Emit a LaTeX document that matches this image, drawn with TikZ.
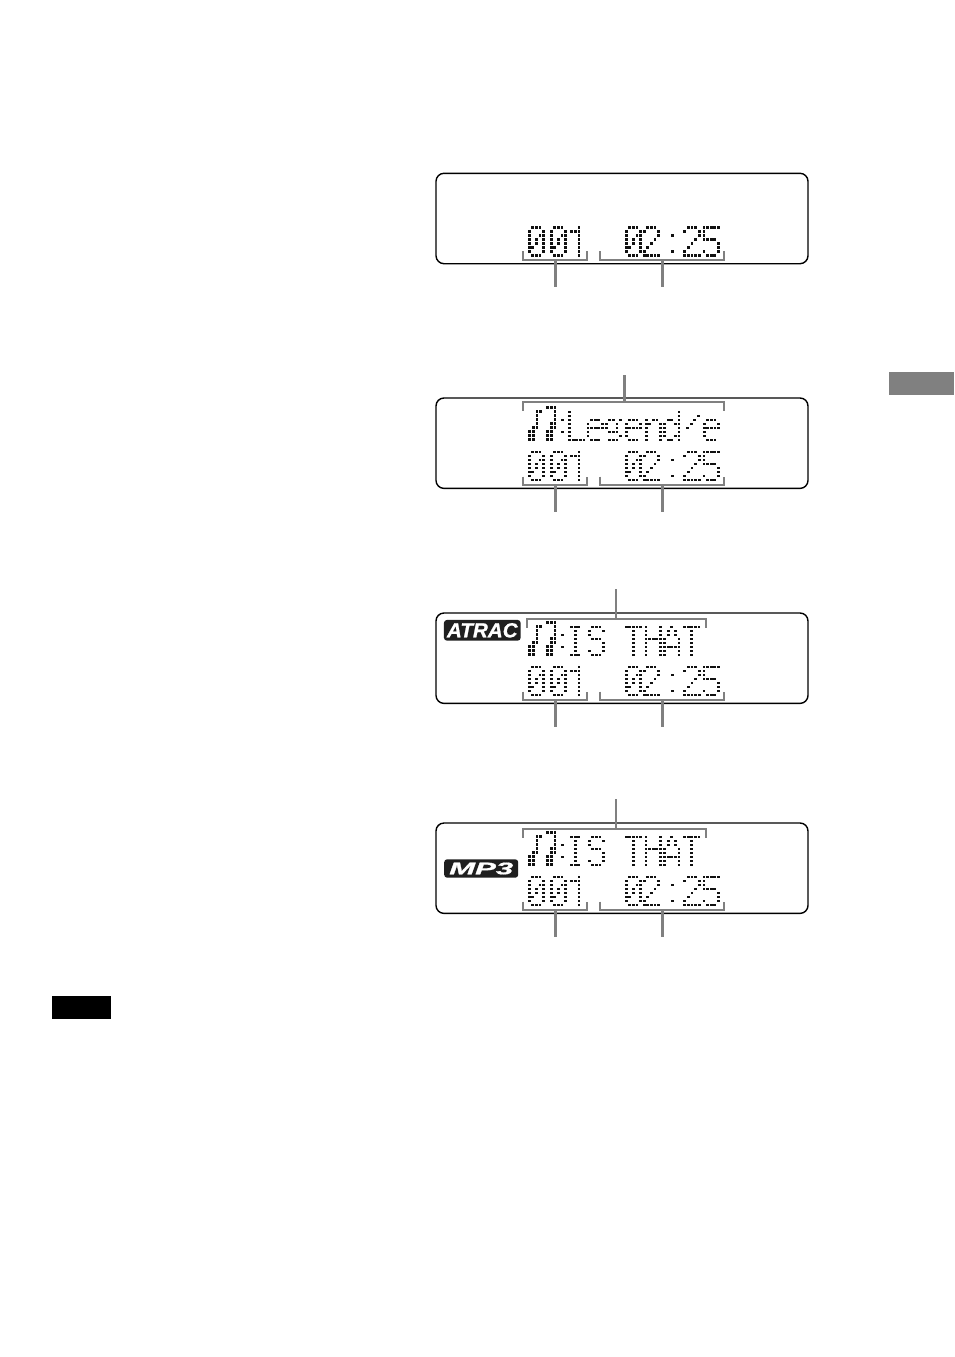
\documentclass[tikz,border=0pt]{standalone}
\usepackage{fontspec}
\usepackage{graphicx}
\setmainfont{Liberation Sans}
\definecolor{leader}{HTML}{808080}
\definecolor{lcd}{HTML}{111111}
\tikzset{
  panel/.style={draw=black,line width=1.05pt,rounded corners=6pt,fill=white,minimum width=279pt,minimum height=67.8pt,inner sep=0pt,outer sep=0pt},
  bracketline/.style={draw=leader,line width=1.75pt,line cap=butt,line join=miter},
  stemline/.style={draw=leader,line width=1.8pt},
  lcddot/.style={fill=lcd},
  badge/.style={fill=black!88,rounded corners=2.2pt,text=white,font=\bfseries\itshape\addfontfeature{FakeBold=1},inner sep=0pt,outer sep=0pt},
  block/.style={fill=#1,inner sep=0pt,outer sep=0pt,anchor=north west}
}
\newcount\colc
\def\dw#1{\ifx#1\relax\else
  \ifx#1X\fill[lcddot] ({\gx+3.6*\the\colc-1.4},{\gy+4*\ri-1.25}) rectangle ++(2.8,2.5);\fi
  \advance\colc by 1 \expandafter\dw\fi}
\newcommand{\glyphat}[3]{\def\gx{#1}\def\gy{#2}%
  \foreach \rr [count=\ri from 0] in #3 {\colc=0 \expandafter\dw\rr\relax}}
\def\gZero{oXXXo,XoooX,XooXX,XoXoX,XoXoX,XXooX,XoooX,oXXXo}
\def\gOne{ooooX,ooXXX,ooooX,ooooX,ooooX,ooooX,ooooX,ooooX}
\def\gTwo{oXXXo,XoooX,ooooX,oooXo,ooXoo,oXooo,Xoooo,XXXXX}
\def\gFive{XXXXX,Xoooo,Xoooo,XXXXo,ooooX,ooooX,XoooX,oXXXo}
\def\gColon{o,o,X,o,o,o,X,o}
\def\gColonB{o,o,X,o,o,X,o,o}
\def\gNote{oooooXXX,ooXXoooX,ooXooooX,ooXooooX,ooXoooXX,oXXoooXX,XXoooXXo,XXoooXXo,XXoooXXo}
\def\gLL{Xoooo,Xoooo,Xoooo,Xoooo,Xoooo,Xoooo,Xoooo,XXXXX}
\def\ge{o,o,oXXXo,XoooX,XXXXX,Xoooo,Xoooo,oXXXo}
\def\gs{o,o,oXXoX,XooXo,XooXo,oXXXo,ooooX,oXXXo}
\def\gn{o,o,XoXXo,XXooX,XoooX,XoooX,XoooX,XoooX}
\def\gd{ooooX,ooooX,oXXoX,XooXX,XoooX,XoooX,XooXX,oXXoX}
\def\gSlash{o,oooX,ooXo,oXoo,Xooo}
\def\gI{oXXXo,ooXoo,ooXoo,ooXoo,ooXoo,ooXoo,ooXoo,oXXXo}
\def\gS{oXXXo,XoooX,Xoooo,oXXXo,ooooX,ooooX,XoooX,oXXXo}
\def\gT{XXXXX,ooXoo,ooXoo,ooXoo,ooXoo,ooXoo,ooXoo,ooXoo}
\def\gH{XoooX,XoooX,XoooX,XXXXX,XoooX,XoooX,XoooX,XoooX}
\def\gA{ooXoo,oXoXo,oXoXo,XoooX,XoooX,XXXXX,XoooX,XoooX}
\newcommand{\timerow}[1]{%
  \glyphat{529.2}{#1}{\gZero}\glyphat{551.2}{#1}{\gZero}\glyphat{564.6}{#1}{\gOne}%
  \glyphat{626.2}{#1}{\gZero}\glyphat{644.2}{#1}{\gTwo}\glyphat{672.3}{#1}{\gColon}%
  \glyphat{684.7}{#1}{\gTwo}\glyphat{704}{#1}{\gFive}}
\newcommand{\isthat}[1]{%
  \glyphat{529.8}{#1-4.5}{\gNote}\glyphat{562.7}{#1}{\gColonB}%
  \glyphat{568}{#1}{\gI}\glyphat{589.2}{#1}{\gS}\glyphat{626.2}{#1}{\gT}%
  \glyphat{646}{#1}{\gH}\glyphat{664.5}{#1}{\gA}\glyphat{684.5}{#1}{\gT}}
\begin{document}
\begin{tikzpicture}[x=0.75pt,y=-0.75pt]
\useasboundingbox (0,0) rectangle (954,1357);
\fill[white] (0,0) rectangle (954,1357);
% tab and note block
\node[block=leader,minimum width=48.75pt,minimum height=17.25pt] (tab) at (889,372) {};
\node[block=black,minimum width=44.25pt,minimum height=17.25pt] (noteblock) at (52,996) {};
% panels
\node[panel] (p1) at (622,218.5) {};
\node[panel] (p2) at (622,443.2) {};
\node[panel] (p3) at (622,658.2) {};
\node[panel] (p4) at (622,868.2) {};
% dot matrix rows
\timerow{227.5}
\timerow{452.2}
\timerow{667.2}
\timerow{877.2}
% Legend row
\glyphat{529.8}{407.5}{\gNote}
\glyphat{562.7}{412}{\gColonB}
\glyphat{569.5}{412}{\gLL}
\glyphat{588}{412}{\ge}
\glyphat{606.2}{412}{\gs}
\glyphat{626.2}{412}{\ge}
\glyphat{646.2}{412}{\gn}
\glyphat{664.6}{412}{\gd}
\glyphat{687.5}{412}{\gSlash}
\glyphat{704.2}{412}{\ge}
% IS THAT rows
\isthat{627}
\isthat{837}
% brackets and stems
\foreach \n/\yt/\yb/\ye in {1/251/260/286.7, 2/476.7/485/511.7, 3/691.7/700/726.7, 4/901.7/910/936.7}{
  \coordinate (al\n) at (522.7,\yt); \coordinate (bl\n) at (522.7,\yb);
  \coordinate (cl\n) at (587.3,\yb); \coordinate (dl\n) at (587.3,\yt);
  \coordinate (ar\n) at (600,\yt); \coordinate (br\n) at (600,\yb);
  \coordinate (cr\n) at (724.3,\yb); \coordinate (dr\n) at (724.3,\yt);
  \coordinate (sl\n) at (555.3,\yb); \coordinate (el\n) at (555.3,\ye);
  \coordinate (sr\n) at (662.3,\yb); \coordinate (er\n) at (662.3,\ye);
  \draw[bracketline] (al\n) -- (bl\n) -- (cl\n) -- (dl\n);
  \draw[bracketline] (ar\n) -- (br\n) -- (cr\n) -- (dr\n);
  \draw[stemline] (sl\n) -- (el\n);
  \draw[stemline] (sr\n) -- (er\n);
}
% top brackets
\coordinate (ta2) at (522.7,410.7); \coordinate (tb2) at (522.7,402);
\coordinate (tc2) at (724.3,402); \coordinate (td2) at (724.3,410.7);
\coordinate (ts2) at (624.3,402); \coordinate (te2) at (624.3,375);
\coordinate (ta3) at (526.7,627.7); \coordinate (tb3) at (526.7,618.7);
\coordinate (tc3) at (706,618.7); \coordinate (td3) at (706,627.7);
\coordinate (ts3) at (616,618.7); \coordinate (te3) at (616,589);
\coordinate (ta4) at (523.3,837.7); \coordinate (tb4) at (523.3,828.7);
\coordinate (tc4) at (706,828.7); \coordinate (td4) at (706,837.7);
\coordinate (ts4) at (616,828.7); \coordinate (te4) at (616,799);
\foreach \n in {2,3,4}{
  \draw[bracketline] (ta\n) -- (tb\n) -- (tc\n) -- (td\n);
  \draw[stemline] (ts\n) -- (te\n);
}
% badges
\node[badge,minimum width=57.5pt,minimum height=15.5pt] (atrac) at (482.3,630.3) {\resizebox{53pt}{10.7pt}{ATRAC}};
\node[badge,minimum width=55.5pt,minimum height=13.8pt] (mp3) at (481.2,868.5) {\resizebox{48pt}{8.8pt}{MP3}};
\end{tikzpicture}
\end{document}
